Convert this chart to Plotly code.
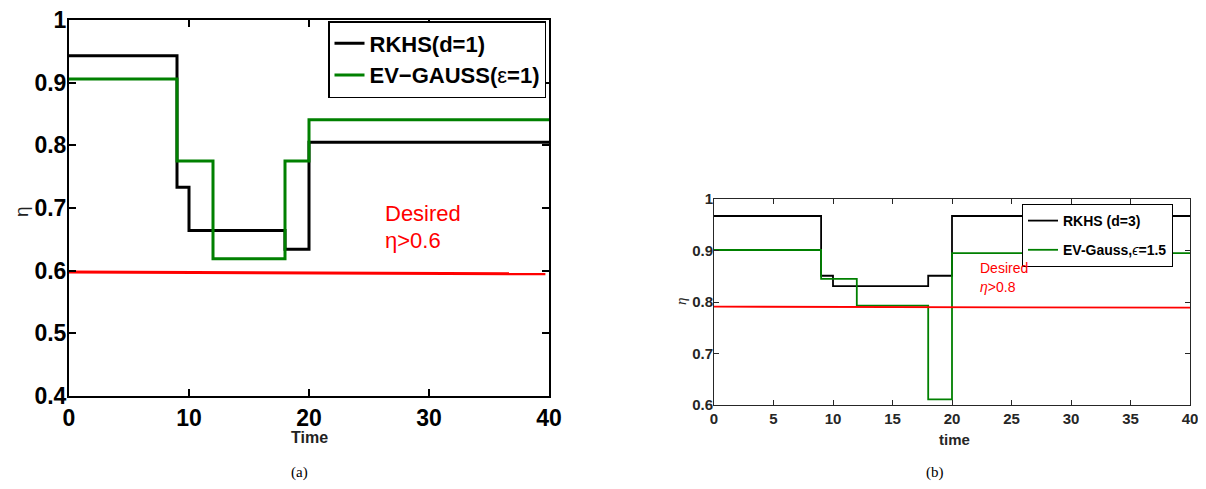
import plotly.graph_objects as go

# the page body adds an 8px margin, so the figure is drawn 8px in from the window edge
OFF = 8
W, H = 1206 - OFF, 489 - OFF

# ---- panel (a) data ----
a_time_black = [0, 9, 10, 18, 20, 40]
a_eta_black = [0.943, 0.733, 0.664, 0.634, 0.805, 0.805]
a_time_green = [0, 9, 12, 18, 20, 40]
a_eta_green = [0.906, 0.775, 0.619, 0.775, 0.841, 0.841]
a_time_red = [0, 39.7]
a_eta_red = [0.598, 0.595]
a_xticks = [0, 10, 20, 30, 40]
a_yticks = [0.4, 0.5, 0.6, 0.7, 0.8, 0.9, 1.0]
a_ytick_labels = ["0.4", "0.5", "0.6", "0.7", "0.8", "0.9", "1"]

# ---- panel (b) data ----
b_time_black = [0, 9, 10, 18, 20, 40]
b_eta_black = [0.967, 0.851, 0.831, 0.851, 0.967, 0.967]
b_time_green = [0, 9, 12, 18, 20, 40]
b_eta_green = [0.901, 0.845, 0.793, 0.611, 0.895, 0.895]
b_time_red = [0, 40]
b_eta_red = [0.791, 0.789]
b_xticks = [0, 5, 10, 15, 20, 25, 30, 35, 40]
b_yticks = [0.6, 0.7, 0.8, 0.9, 1.0]
b_ytick_labels = ["0.6", "0.7", "0.8", "0.9", "1"]

GREEN = "#008000"
RED = "#ff0000"
SANS = "Liberation Sans, Arial, Helvetica, sans-serif"

fig = go.Figure()

# panel (a)
fig.add_trace(go.Scatter(x=a_time_black, y=a_eta_black, mode="lines", line_shape="hv",
                         line=dict(color="black", width=3), name="RKHS(d=1)",
                         xaxis="x", yaxis="y", legend="legend"))
fig.add_trace(go.Scatter(x=a_time_green, y=a_eta_green, mode="lines", line_shape="hv",
                         line=dict(color=GREEN, width=3),
                         name="EV−GAUSS(<span style='font-weight:normal'>ε</span>=1)",
                         xaxis="x", yaxis="y", legend="legend"))
fig.add_trace(go.Scatter(x=a_time_red, y=a_eta_red, mode="lines",
                         line=dict(color=RED, width=3), showlegend=False,
                         xaxis="x", yaxis="y"))

# panel (b)
fig.add_trace(go.Scatter(x=b_time_black, y=b_eta_black, mode="lines", line_shape="hv",
                         line=dict(color="black", width=1.8), name="RKHS (d=3)",
                         xaxis="x2", yaxis="y2", legend="legend2", legendgroup="g1"))
fig.add_trace(go.Scatter(x=b_time_green, y=b_eta_green, mode="lines", line_shape="hv",
                         line=dict(color=GREEN, width=1.8),
                         name="EV-Gauss,<span style='font-style:italic;font-weight:normal'>ϵ</span>=1.5",
                         xaxis="x2", yaxis="y2", legend="legend2", legendgroup="g2"))
fig.add_trace(go.Scatter(x=b_time_red, y=b_eta_red, mode="lines",
                         line=dict(color=RED, width=1.8), showlegend=False,
                         xaxis="x2", yaxis="y2"))

def px_x(p):
    return (p - OFF) / W

def px_y(p):
    return 1 - (p - OFF) / H

axis_a = dict(showgrid=False, zeroline=False, showline=True, linecolor="black", linewidth=2,
              ticks="inside", ticklen=7, tickwidth=2, tickcolor="black", mirror="ticks",
              automargin=False, ticklabeloverflow="allow",
              tickfont=dict(family=SANS, size=23, color="black", weight="bold"))
axis_b = dict(showgrid=False, zeroline=False, showline=True, linecolor="#262626", linewidth=1,
              ticks="inside", ticklen=5, tickwidth=1, tickcolor="#262626", mirror="ticks",
              automargin=False, ticklabeloverflow="allow",
              tickfont=dict(family=SANS, size=15, color="#262626", weight="bold"))

fig.update_layout(
    template="none",
    width=W, height=H,
    margin=dict(l=0, r=0, t=0, b=0, pad=0),
    paper_bgcolor="white", plot_bgcolor="white",
    xaxis=dict(axis_a, domain=[px_x(69), px_x(549)], range=[0, 40],
               tickvals=a_xticks, anchor="y"),
    yaxis=dict(axis_a, domain=[px_y(396), px_y(20)], range=[0.4, 1.0],
               tickvals=a_yticks, ticktext=a_ytick_labels, anchor="x",
               ticklabelstandoff=-4),
    xaxis2=dict(axis_b, domain=[px_x(714), px_x(1190)], range=[0, 40],
                tickvals=b_xticks, anchor="y2"),
    yaxis2=dict(axis_b, domain=[px_y(405), px_y(199)], range=[0.6, 1.0],
                tickvals=b_yticks, ticktext=b_ytick_labels, anchor="x2",
                ticklabelstandoff=-3),
    legend=dict(x=px_x(328), y=px_y(21), xanchor="left", yanchor="top",
                bgcolor="white", bordercolor="black", borderwidth=1.5,
                font=dict(family=SANS, size=22, color="black", weight="bold"),
                tracegroupgap=0),
    legend2=dict(x=px_x(1022), y=px_y(204), xanchor="left", yanchor="top",
                 bgcolor="white", bordercolor="black", borderwidth=1,
                 font=dict(family=SANS, size=14, color="black", weight="bold"),
                 traceorder="grouped", tracegroupgap=8),
    showlegend=True,
)

annotations = [
    # panel (a) texts
    dict(text="Desired", x=26.2, y=0.692, xref="x", yref="y", xanchor="left", yanchor="middle",
         showarrow=False, font=dict(family=SANS, size=22, color=RED)),
    dict(text="η>0.6", x=26.2, y=0.648, xref="x", yref="y", xanchor="left", yanchor="middle",
         showarrow=False, font=dict(family=SANS, size=22, color=RED)),
    dict(text="Time", x=px_x(309), y=px_y(437), xref="paper", yref="paper",
         xanchor="center", yanchor="middle", showarrow=False,
         font=dict(family=SANS, size=16, color="#222222", weight="bold")),
    dict(text="η", x=px_x(21), y=px_y(212), xref="paper", yref="paper", textangle=-90,
         xanchor="center", yanchor="middle", showarrow=False,
         font=dict(family=SANS, size=19, color="#222222")),
    # panel (b) texts
    dict(text="Desired", x=22.2, y=0.866, xref="x2", yref="y2", xanchor="left", yanchor="middle",
         showarrow=False, font=dict(family=SANS, size=14, color=RED)),
    dict(text="<i>η</i>>0.8", x=22.2, y=0.829, xref="x2", yref="y2", xanchor="left",
         yanchor="middle", showarrow=False, font=dict(family=SANS, size=14, color=RED)),
    dict(text="time", x=px_x(954), y=px_y(439), xref="paper", yref="paper",
         xanchor="center", yanchor="middle", showarrow=False,
         font=dict(family=SANS, size=15, color="#262626", weight="bold")),
    dict(text="<i>η</i>", x=px_x(681), y=px_y(302), xref="paper", yref="paper", textangle=-90,
         xanchor="center", yanchor="middle", showarrow=False,
         font=dict(family="Liberation Serif, serif", size=15, color="#262626")),
    # captions
    dict(text="(a)", x=px_x(299), y=px_y(472), xref="paper", yref="paper",
         xanchor="center", yanchor="middle", showarrow=False,
         font=dict(family="Liberation Serif, Times New Roman, serif", size=15, color="black")),
    dict(text="(b)", x=px_x(935), y=px_y(472), xref="paper", yref="paper",
         xanchor="center", yanchor="middle", showarrow=False,
         font=dict(family="Liberation Serif, Times New Roman, serif", size=15, color="black")),
]
fig.update_layout(annotations=annotations)

fig.write_html("out.html")
